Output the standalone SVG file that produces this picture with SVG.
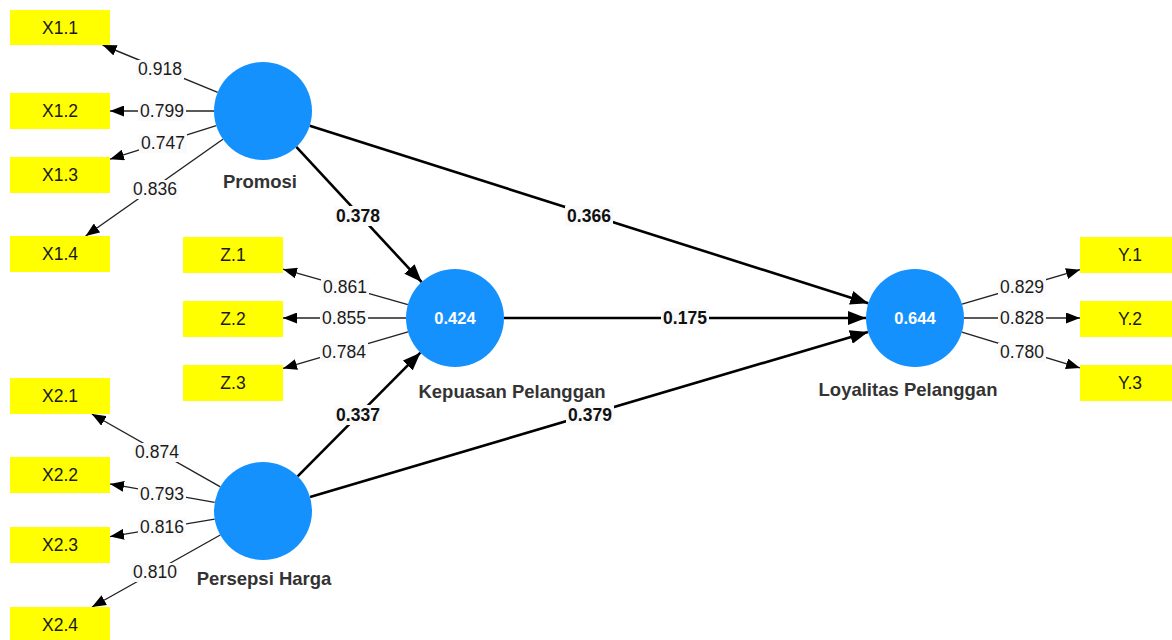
<svg xmlns="http://www.w3.org/2000/svg" width="1172" height="640" viewBox="0 0 1172 640">
<defs>
<marker id="ah" markerUnits="userSpaceOnUse" markerWidth="14" markerHeight="11" refX="14" refY="5.5" orient="auto"><path d="M0,0 L14,5.5 L0,11 z" fill="#000"/></marker>
<marker id="ahb" markerUnits="userSpaceOnUse" markerWidth="18" markerHeight="14" refX="18" refY="7" orient="auto"><path d="M0,0 L18,7 L0,14 z" fill="#000"/></marker>
<style>
.box{fill:#ffff00}
.bt{font-family:"Liberation Sans",Arial,sans-serif;font-size:17.5px;fill:#1a1a1a;text-anchor:middle}
.lv{fill:#1591fe}
.lvt{font-family:"Liberation Sans",Arial,sans-serif;font-size:16.5px;font-weight:bold;fill:#fff;text-anchor:middle}
.nm{font-family:"Liberation Sans",Arial,sans-serif;font-size:18.5px;font-weight:bold;fill:#333;text-anchor:middle}
.ld{stroke:#222;stroke-width:1.4;fill:none;marker-end:url(#ah)}
.pt{stroke:#000;stroke-width:2.6;fill:none;marker-end:url(#ahb)}
.lb{fill:#fafafa}
.lt{font-family:"Liberation Sans",Arial,sans-serif;font-size:17.5px;fill:#1a1a1a;text-anchor:middle}
.pl{font-family:"Liberation Sans",Arial,sans-serif;font-size:17.5px;font-weight:bold;fill:#111;text-anchor:middle}
</style>
</defs>
<rect width="1172" height="640" fill="#fff"/>
<g id="connectors">
<line class="ld" x1="217.7" y1="92.4" x2="102.6" y2="45"/>
<line class="ld" x1="214" y1="111" x2="110" y2="111"/>
<line class="ld" x1="216.3" y1="125.7" x2="110" y2="159.2"/>
<line class="ld" x1="222.9" y1="139.2" x2="85.6" y2="236"/>
<line class="ld" x1="407.9" y1="304.6" x2="283" y2="269.2"/>
<line class="ld" x1="406" y1="318" x2="283" y2="318"/>
<line class="ld" x1="408" y1="331.8" x2="283" y2="368.4"/>
<line class="ld" x1="962" y1="304.2" x2="1080" y2="269.7"/>
<line class="ld" x1="964" y1="318" x2="1080" y2="318"/>
<line class="ld" x1="961.9" y1="332.2" x2="1080" y2="367.9"/>
<line class="ld" x1="220.4" y1="486.8" x2="91.8" y2="414"/>
<line class="ld" x1="214.7" y1="502.4" x2="110" y2="483.9"/>
<line class="ld" x1="214.7" y1="519.1" x2="110" y2="536.6"/>
<line class="ld" x1="220.3" y1="535" x2="92" y2="607"/>
<line class="pt" x1="296.3" y1="146.9" x2="421.7" y2="282.1"/>
<line class="pt" x1="309.7" y1="125.8" x2="868.3" y2="303.2"/>
<line class="pt" x1="504" y1="318" x2="866" y2="318"/>
<line class="pt" x1="297.6" y1="476.3" x2="420.4" y2="352.7"/>
<line class="pt" x1="310" y1="497.1" x2="868" y2="331.9"/>
<g id="loading-labels">
<rect class="lb" x="136" y="60" width="48" height="19"/><text class="lt" x="160" y="75">0.918</text>
<rect class="lb" x="138" y="102" width="48" height="19"/><text class="lt" x="162" y="117">0.799</text>
<rect class="lb" x="139" y="134" width="48" height="19"/><text class="lt" x="163" y="149">0.747</text>
<rect class="lb" x="131" y="180" width="48" height="19"/><text class="lt" x="155" y="195">0.836</text>
<rect class="lb" x="321" y="278" width="48" height="19"/><text class="lt" x="345" y="293">0.861</text>
<rect class="lb" x="320" y="309" width="48" height="19"/><text class="lt" x="344" y="324">0.855</text>
<rect class="lb" x="320" y="343" width="48" height="19"/><text class="lt" x="344" y="358">0.784</text>
<rect class="lb" x="998" y="278" width="48" height="19"/><text class="lt" x="1022" y="293">0.829</text>
<rect class="lb" x="998" y="309" width="48" height="19"/><text class="lt" x="1022" y="324">0.828</text>
<rect class="lb" x="998" y="343" width="48" height="19"/><text class="lt" x="1022" y="358">0.780</text>
<rect class="lb" x="133" y="443" width="48" height="19"/><text class="lt" x="157" y="458">0.874</text>
<rect class="lb" x="138" y="485" width="48" height="19"/><text class="lt" x="162" y="500">0.793</text>
<rect class="lb" x="138" y="518" width="48" height="19"/><text class="lt" x="162" y="533">0.816</text>
<rect class="lb" x="131" y="563" width="48" height="19"/><text class="lt" x="155" y="578">0.810</text>
</g>
<g id="path-labels">
<rect class="lb" x="334" y="206" width="48" height="20"/><text class="pl" x="358" y="222">0.378</text>
<rect class="lb" x="565" y="206" width="48" height="20"/><text class="pl" x="589" y="222">0.366</text>
<rect class="lb" x="661" y="308" width="48" height="20"/><text class="pl" x="685" y="324">0.175</text>
<rect class="lb" x="334" y="405" width="48" height="20"/><text class="pl" x="358" y="421">0.337</text>
<rect class="lb" x="566" y="405" width="48" height="20"/><text class="pl" x="590" y="421">0.379</text>
</g>
</g>
<g id="X1.1"><rect class="box" x="10" y="10" width="100" height="35"/><text class="bt" x="60" y="34">X1.1</text></g>
<g id="X1.2"><rect class="box" x="10" y="93" width="100" height="36"/><text class="bt" x="60" y="117">X1.2</text></g>
<g id="X1.3"><rect class="box" x="10" y="157" width="100" height="36"/><text class="bt" x="60" y="181">X1.3</text></g>
<g id="X1.4"><rect class="box" x="10" y="236" width="100" height="36"/><text class="bt" x="60" y="260">X1.4</text></g>
<g id="Z.1"><rect class="box" x="183" y="237" width="100" height="36"/><text class="bt" x="233" y="261">Z.1</text></g>
<g id="Z.2"><rect class="box" x="183" y="301" width="100" height="36"/><text class="bt" x="233" y="325">Z.2</text></g>
<g id="Z.3"><rect class="box" x="183" y="365" width="100" height="36"/><text class="bt" x="233" y="389">Z.3</text></g>
<g id="Y.1"><rect class="box" x="1080" y="237" width="100" height="36"/><text class="bt" x="1130" y="261">Y.1</text></g>
<g id="Y.2"><rect class="box" x="1080" y="301" width="100" height="36"/><text class="bt" x="1130" y="325">Y.2</text></g>
<g id="Y.3"><rect class="box" x="1080" y="365" width="100" height="36"/><text class="bt" x="1130" y="389">Y.3</text></g>
<g id="X2.1"><rect class="box" x="10" y="378" width="100" height="36"/><text class="bt" x="60" y="402">X2.1</text></g>
<g id="X2.2"><rect class="box" x="10" y="457" width="100" height="36"/><text class="bt" x="60" y="481">X2.2</text></g>
<g id="X2.3"><rect class="box" x="10" y="527" width="100" height="36"/><text class="bt" x="60" y="551">X2.3</text></g>
<g id="X2.4"><rect class="box" x="10" y="607" width="100" height="36"/><text class="bt" x="60" y="631">X2.4</text></g>
<g id="Promosi"><circle class="lv" cx="263" cy="111" r="49"/><text class="nm" x="260" y="188">Promosi</text></g>
<g id="Kepuasan"><circle class="lv" cx="455" cy="318" r="49"/><text class="lvt" x="455" y="324">0.424</text><text class="nm" x="512" y="398">Kepuasan Pelanggan</text></g>
<g id="Loyalitas"><circle class="lv" cx="915" cy="318" r="49"/><text class="lvt" x="915" y="324">0.644</text><text class="nm" x="908" y="396">Loyalitas Pelanggan</text></g>
<g id="Persepsi"><circle class="lv" cx="263" cy="511" r="49"/><text class="nm" x="264" y="585">Persepsi Harga</text></g>
</svg>
